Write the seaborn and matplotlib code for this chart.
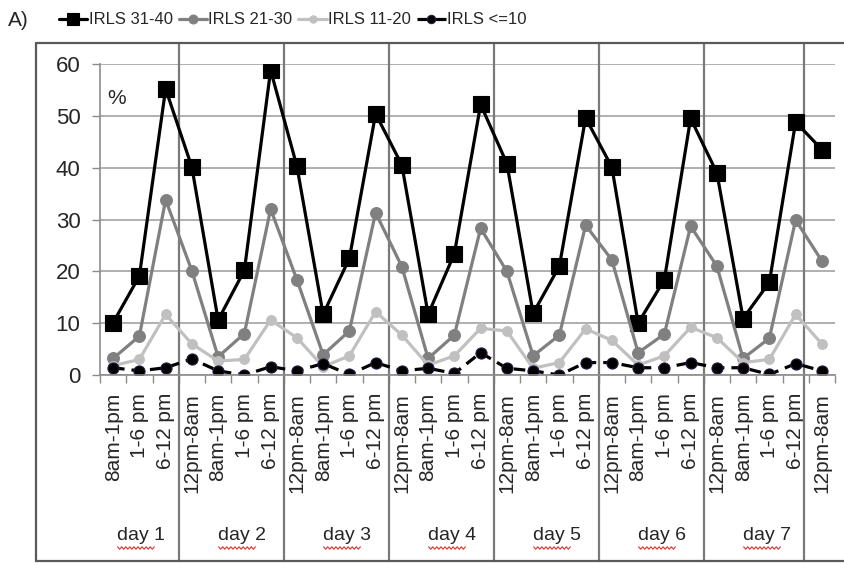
"""IRLS severity over the 7-day diary, recreated with seaborn/matplotlib."""

import matplotlib

matplotlib.use("Agg")

import matplotlib.pyplot as plt  # noqa: E402
import numpy as np  # noqa: E402
import seaborn as sns  # noqa: E402
from matplotlib.lines import Line2D  # noqa: E402

# ---- data ----
time_labels = [
    "8am-1pm", "1-6 pm", "6-12 pm",
    "12pm-8am", "8am-1pm", "1-6 pm", "6-12 pm",
    "12pm-8am", "8am-1pm", "1-6 pm", "6-12 pm",
    "12pm-8am", "8am-1pm", "1-6 pm", "6-12 pm",
    "12pm-8am", "8am-1pm", "1-6 pm", "6-12 pm",
    "12pm-8am", "8am-1pm", "1-6 pm", "6-12 pm",
    "12pm-8am", "8am-1pm", "1-6 pm", "6-12 pm",
    "12pm-8am",
]
day_labels = ["day 1", "day 2", "day 3", "day 4", "day 5", "day 6", "day 7"]

irls_31_40 = [10.1, 19.1, 55.2, 40.1, 10.6, 20.2, 58.8, 40.3, 11.7, 22.5,
              50.4, 40.5, 11.7, 23.4, 52.2, 40.8, 11.9, 21.0, 49.6, 40.1,
              10.0, 18.4, 49.5, 39.0, 10.9, 17.9, 48.8, 43.5]
irls_21_30 = [3.2, 7.5, 33.8, 20.1, 3.5, 8.0, 32.0, 18.4, 3.9, 8.5,
              31.3, 20.9, 3.2, 7.7, 28.3, 20.0, 3.7, 7.7, 28.9, 22.2,
              4.3, 7.9, 28.7, 21.0, 3.2, 7.1, 29.9, 22.0]
irls_11_20 = [1.8, 3.0, 11.7, 6.0, 2.7, 3.0, 10.6, 7.2, 1.6, 3.7,
              12.2, 7.7, 1.9, 3.7, 9.0, 8.5, 1.3, 2.4, 8.9, 6.7,
              1.9, 3.7, 9.2, 7.2, 2.4, 3.0, 11.7, 6.0]
irls_le_10 = [1.4, 0.8, 1.4, 3.1, 0.8, 0.0, 1.6, 0.8, 2.2, 0.1,
              2.4, 0.8, 1.3, 0.3, 4.3, 1.3, 0.8, 0.0, 2.4, 2.4,
              1.4, 1.4, 2.4, 1.4, 1.4, 0.1, 2.2, 0.8]

# (label, values, colour, marker, marker size, dashed)
SERIES = [
    ("IRLS 31-40", irls_31_40, "#000000", "s", 11.0, False),
    ("IRLS 21-30", irls_21_30, "#808080", "o", 8.5, False),
    ("IRLS 11-20", irls_11_20, "#c0c0c0", "o", 7.0, False),
    ("IRLS <=10", irls_le_10, "#000000", "o", 8.0, True),
]

W, H = 844, 563
AX_L, AX_R, AX_Y0, AX_Y60 = 100, 835, 375, 64  # pixel frame of the plot area

sns.set_theme(style="white")
plt.rcParams["font.family"] = ["Liberation Sans", "DejaVu Sans"]

fig = plt.figure(figsize=(W / 100, H / 100), dpi=100)
ax = fig.add_axes([AX_L / W, 1 - AX_Y0 / H, (AX_R - AX_L) / W, (AX_Y0 - AX_Y60) / H])

x = np.arange(len(time_labels))
for label, vals, color, marker, ms, dashed in SERIES:
    sns.lineplot(
        x=x, y=vals, ax=ax, color=color, marker=marker, markersize=ms,
        linewidth=2.3, label=label,
        markeredgecolor="#2a1840" if dashed else color, markeredgewidth=0.8,
        linestyle=(0, (3.6, 2.2)) if dashed else "-",
    )

ax.set_xlim(-0.5, len(time_labels) - 0.5)
ax.set_ylim(0, 60)
ax.set_yticks(range(0, 61, 10))
ax.tick_params(axis="y", labelsize=16, length=6, width=1, color="#8c8c8c",
               pad=8, left=True)
ax.grid(axis="y", color="#9a9a9a", linewidth=1.1)
ax.grid(axis="x", visible=False)

ax.set_xticks(x)
ax.set_xticklabels(time_labels, rotation=90, va="top", ha="center", fontsize=15)
ax.set_xticks(np.arange(-0.5, len(time_labels)), minor=True)
ax.tick_params(axis="x", which="major", length=0, pad=13)
ax.tick_params(axis="x", which="minor", length=6, width=1, color="#8c8c8c",
               bottom=True, direction="out")
ax.set_xlabel("")
ax.set_ylabel("")

for side in ("top", "right"):
    ax.spines[side].set_visible(False)
for side in ("left", "bottom"):
    ax.spines[side].set_color("#8c8c8c")
    ax.spines[side].set_linewidth(1.2)

ax.text(0.01, 0.89, "%", transform=ax.transAxes, fontsize=15, ha="left", va="center")

# day separators run from the top frame line down to the bottom frame line
ax_h = AX_Y0 - AX_Y60
sep_top = (AX_Y0 - 43) / ax_h
sep_bot = (AX_Y0 - 561) / ax_h
for bx in [2.5, 6.5, 10.5, 14.5, 18.5, 22.5, 26.3]:
    ax.axvline(bx, ymin=sep_bot, ymax=sep_top, color="#7a7a7a", linewidth=1.6,
               clip_on=False, zorder=1)

# day names under the time-slot labels, with the spell-check squiggle
day_y = (AX_Y0 - 535) / ax_h
squig_y = (AX_Y0 - 548) / ax_h
for i, name in enumerate(day_labels):
    cx = 1.05 if i == 0 else 4 * i + 0.9
    ax.text(cx, day_y, name, transform=ax.get_xaxis_transform(), fontsize=14,
            ha="center", va="center", clip_on=False)
    sx = np.linspace(cx - 0.88, cx + 0.52, 19)
    sy = squig_y + np.where(np.arange(19) % 2 == 0, 0.004, -0.004)
    ax.plot(sx, sy, transform=ax.get_xaxis_transform(), color="#e03030",
            linewidth=0.8, clip_on=False)

# outer frame (top, left, bottom)
frame_kw = dict(color="#5a5a5a", linewidth=1.6, transform=fig.transFigure)
fig.add_artist(Line2D([36 / W, 1], [1 - 43 / H, 1 - 43 / H], **frame_kw))
fig.add_artist(Line2D([36 / W, 36 / W], [1 - 43 / H, 1 - 561 / H], **frame_kw))
fig.add_artist(Line2D([36 / W, 1], [1 - 561 / H, 1 - 561 / H], **frame_kw))

fig.text(8 / W, 1 - 20 / H, "A)", fontsize=15, va="center", ha="left")

handles, labels = ax.get_legend_handles_labels()
ax.legend_.remove()
fig.legend(handles, labels, loc="center left", bbox_to_anchor=(52 / W, 1 - 20 / H),
           ncol=4, frameon=False, handlelength=1.7, handletextpad=0.1,
           columnspacing=0.35, markerscale=0.75, borderaxespad=0,
           prop={"size": 12})

fig.savefig("out.png", dpi=100)
